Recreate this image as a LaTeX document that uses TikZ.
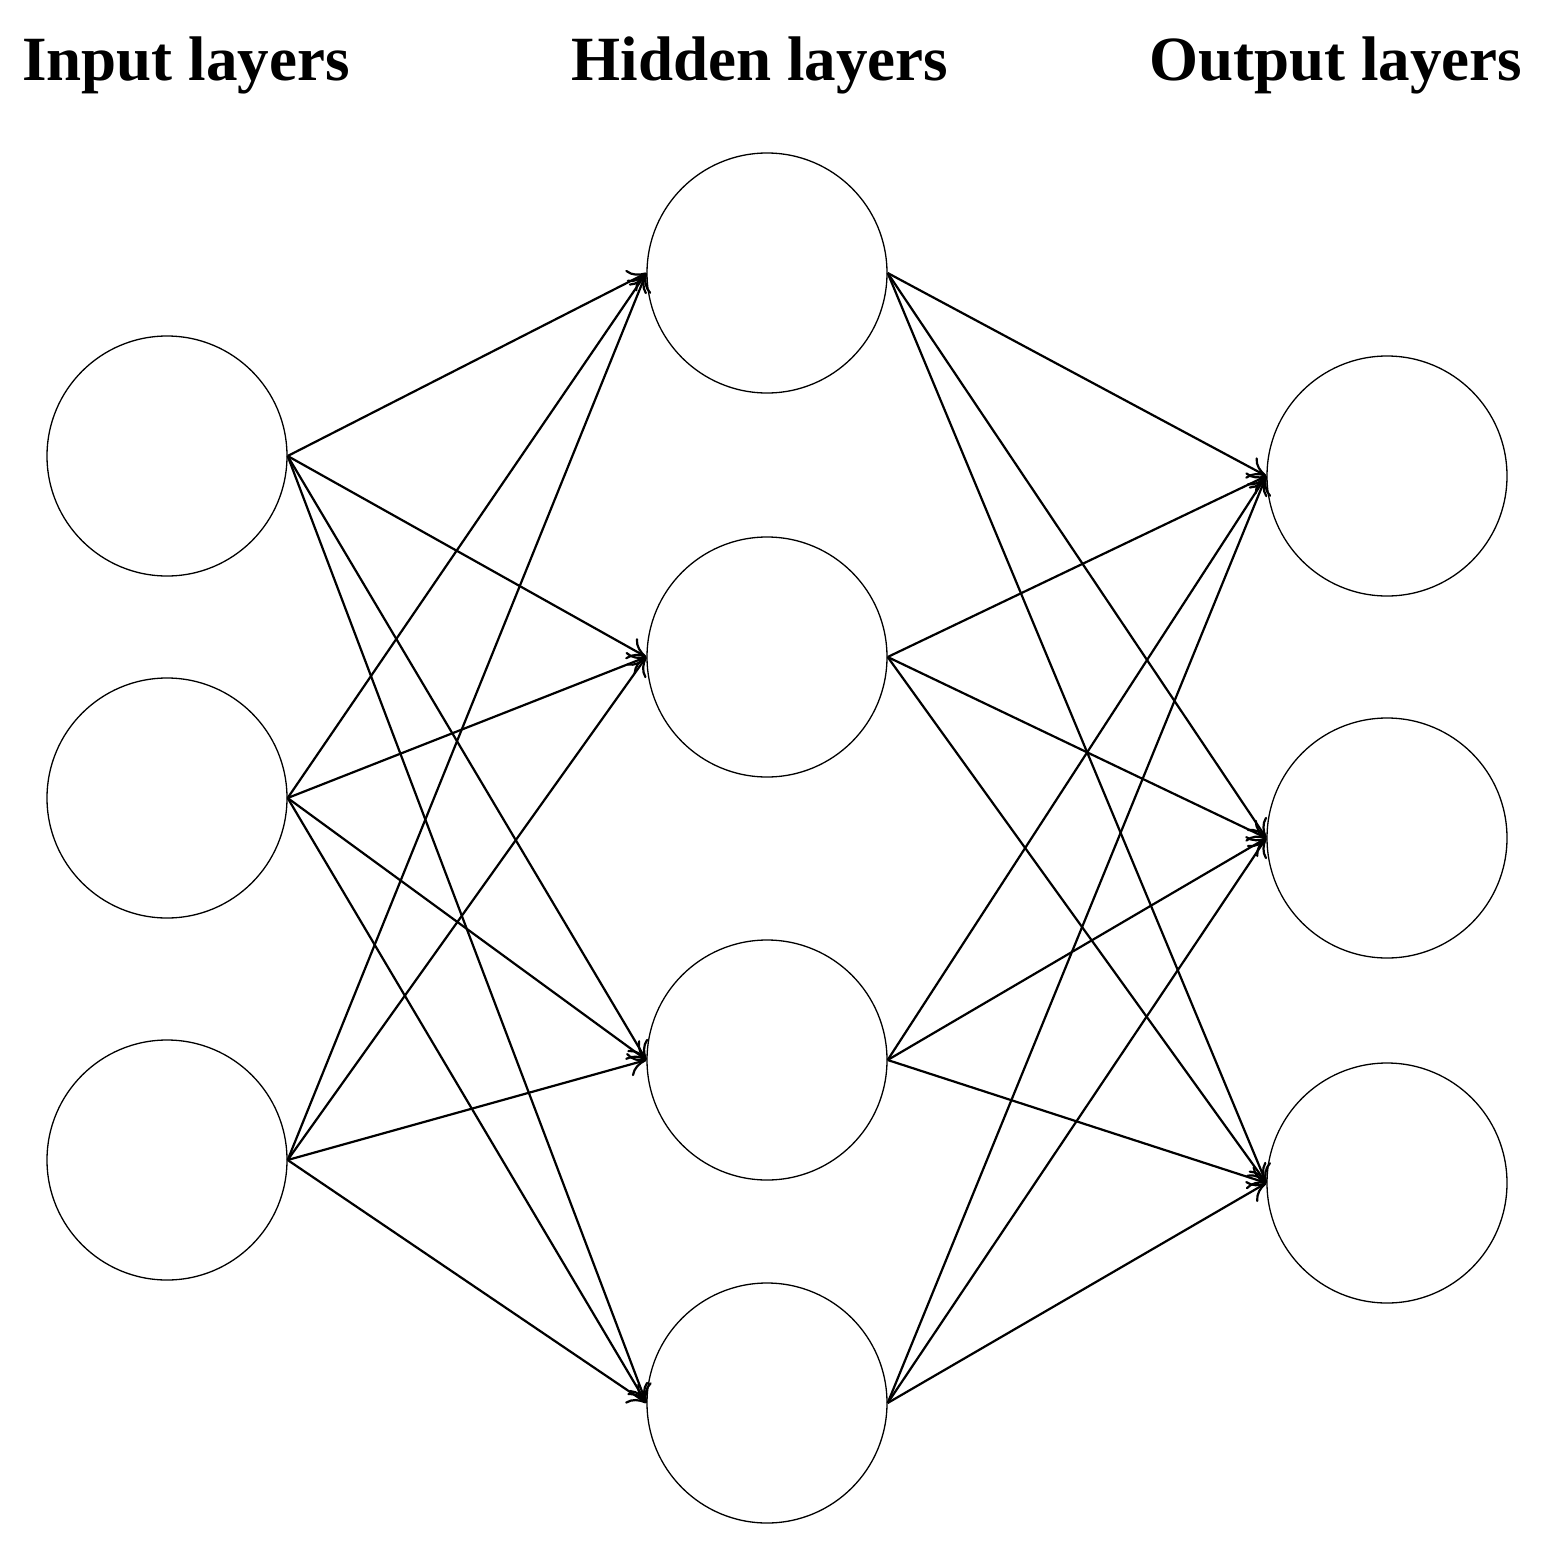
\documentclass[tikz,border=0pt]{standalone}
\usepackage{fontspec}
\setmainfont{Liberation Serif}
\usetikzlibrary{arrows.meta}
\begin{document}
\begin{tikzpicture}[x=1pt,y=-1pt,
  neuron/.style={circle,draw,line width=1.3pt,minimum size=240pt,inner sep=0pt},
  conn/.style={line width=2.2pt,-{To[length=18pt,width=24pt,line width=2.2pt]}},
  title/.style={font=\fontsize{63}{66}\selectfont\bfseries}]
\useasboundingbox (0,0) rectangle (1547,1544);
\node[title] (ti) at (186,65) {Input layers};
\node[title] (th) at (760,65) {Hidden layers};
\node[title] (to) at (1336,65) {Output layers};
\foreach \i/\y in {1/456,2/798,3/1160} \node[neuron] (i\i) at (167,\y) {};
\foreach \i/\y in {1/273,2/657,3/1060,4/1403} \node[neuron] (h\i) at (767,\y) {};
\foreach \i/\y in {1/476,2/838,3/1183} \node[neuron] (o\i) at (1387,\y) {};
\foreach \a in {1,2,3} \foreach \b in {1,2,3,4} \draw[conn] (i\a.east) -- (h\b.west);
\foreach \a in {1,2,3,4} \foreach \b in {1,2,3} \draw[conn] (h\a.east) -- (o\b.west);
\end{tikzpicture}
\end{document}
